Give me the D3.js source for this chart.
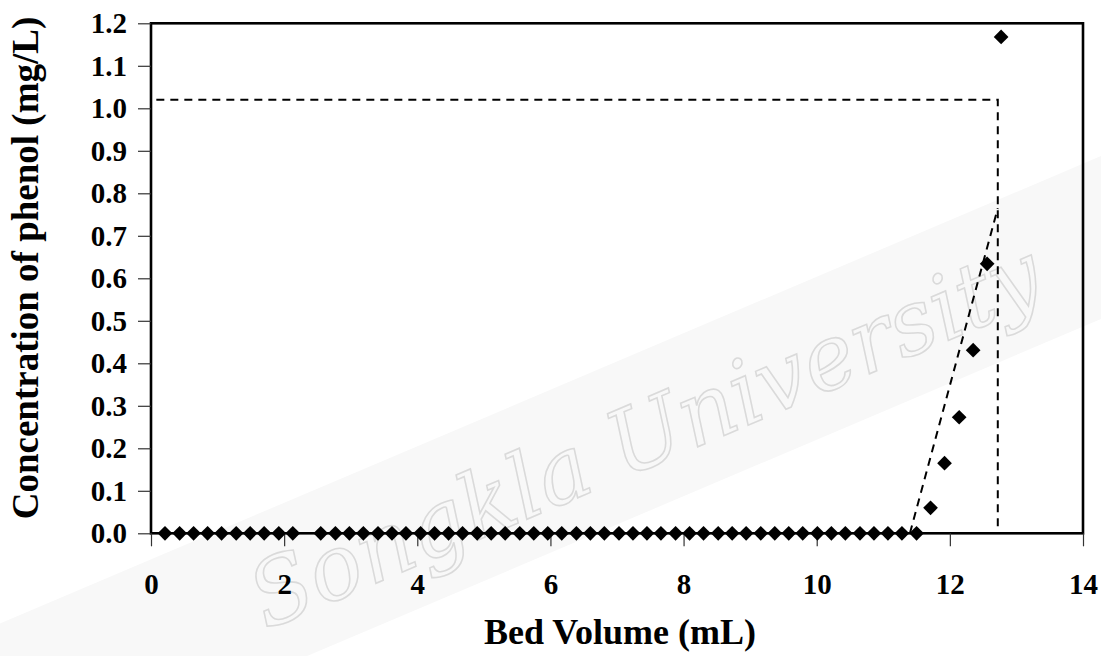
<!DOCTYPE html>
<html>
<head>
<meta charset="utf-8">
<script src="https://cdn.jsdelivr.net/npm/d3@7"></script>
<style>
  html, body { margin: 0; padding: 0; background: #fff; }
  svg { display: block; }
  text { font-family: "Liberation Serif", "Times New Roman", serif; font-weight: bold; fill: #000; }
</style>
</head>
<body>
<svg id="chart" width="1101" height="656"></svg>
<script>
// Bed volume (mL) at each sampling point
const bedVolume = [
  0.21, 0.43, 0.64, 0.85, 1.06, 1.28, 1.49, 1.70, 1.92, 2.13,
  2.55, 2.77, 2.98, 3.19, 3.41, 3.62, 3.83, 4.05, 4.26, 4.47,
  4.68, 4.90, 5.11, 5.32, 5.54, 5.75, 5.96, 6.17, 6.39, 6.60,
  6.81, 7.03, 7.24, 7.45, 7.66, 7.88, 8.09, 8.30, 8.52, 8.73,
  8.94, 9.16, 9.37, 9.58, 9.79, 10.01, 10.22, 10.43, 10.65, 10.86,
  11.07, 11.28, 11.50, 11.71, 11.92, 12.14, 12.35, 12.56, 12.77
];
// Phenol concentration in the effluent (mg/L)
const phenol = [
  0, 0, 0, 0, 0, 0, 0, 0, 0, 0,
  0, 0, 0, 0, 0, 0, 0, 0, 0, 0,
  0, 0, 0, 0, 0, 0, 0, 0, 0, 0,
  0, 0, 0, 0, 0, 0, 0, 0, 0, 0,
  0, 0, 0, 0, 0, 0, 0, 0, 0, 0,
  0, 0, 0, 0.060, 0.165, 0.273, 0.431, 0.634, 1.168
];

// Construction lines: breakthrough tangent and saturation level
const tangentLine = [[11.40, 0], [12.72, 0.765]];
const saturationLine = [[0.08, 1.02], [12.72, 1.02], [12.72, 0]];

const xTicks = [0, 2, 4, 6, 8, 10, 12, 14];
const yTicks = [0, 0.1, 0.2, 0.3, 0.4, 0.5, 0.6, 0.7, 0.8, 0.9, 1.0, 1.1, 1.2];

const xLabel = "Bed Volume (mL)";
const yLabel = "Concentration of phenol (mg/L)";
const watermark = "Songkla University";

const svg = d3.select("#chart");
const margin = { left: 151, right: 18, top: 23.3, bottom: 122.7 };
const W = 1101, H = 656;
const x = d3.scaleLinear().domain([0, 14]).range([margin.left, W - margin.right]);
const y = d3.scaleLinear().domain([0, 1.2]).range([H - margin.bottom, margin.top]);

// faint background watermark
const wm = svg.append("g").attr("transform", "translate(266,630) rotate(-23)");
wm.append("rect").attr("x", -400).attr("y", -110).attr("width", 1500).attr("height", 150)
  .attr("fill", "#f8f8f8");
wm.append("text").attr("x", 0).attr("y", 0)
  .attr("textLength", 850).attr("lengthAdjust", "spacingAndGlyphs")
  .style("font-family", "'DejaVu Serif', serif").style("font-style", "italic")
  .style("font-weight", "normal").style("font-size", "90px")
  .style("fill", "none").attr("stroke", "#dadada").attr("stroke-width", 1.6)
  .text(watermark);

// plot area frame
svg.append("rect")
  .attr("x", x(0)).attr("y", y(1.2))
  .attr("width", x(14) - x(0)).attr("height", y(0) - y(1.2))
  .attr("fill", "none").attr("stroke", "#000").attr("stroke-width", 2.6);

// axes
const tickFont = 29;
const xAxis = d3.axisBottom(x).tickValues(xTicks).tickSize(13).tickSizeOuter(0)
  .tickFormat(d3.format("d")).tickPadding(27);
const yAxis = d3.axisLeft(y).tickValues(yTicks).tickSize(13).tickSizeOuter(0)
  .tickFormat(d3.format(".1f")).tickPadding(11);

const gx = svg.append("g").attr("transform", `translate(0,${y(0)})`).call(xAxis);
const gy = svg.append("g").attr("transform", `translate(${x(0)},0)`).call(yAxis);
[gx, gy].forEach(g => {
  g.select(".domain").remove();
  g.selectAll(".tick line").attr("stroke", "#333").attr("stroke-width", 1.2);
  g.selectAll(".tick text").style("font-size", tickFont + "px")
    .style("font-family", "'Liberation Serif', serif")
    .style("font-weight", "bold").attr("fill", "#000");
});

// dashed construction lines
const line = d3.line().x(d => x(d[0])).y(d => y(d[1]));
svg.append("path").attr("d", line(saturationLine))
  .attr("fill", "none").attr("stroke", "#000").attr("stroke-width", 2)
  .attr("stroke-dasharray", "8,6");
svg.append("path").attr("d", line(tangentLine))
  .attr("fill", "none").attr("stroke", "#000").attr("stroke-width", 2)
  .attr("stroke-dasharray", "8,6");

// data markers (diamonds)
const diamond = d3.symbol().type(d3.symbolSquare).size(108);
svg.append("g").selectAll("path")
  .data(bedVolume.map((v, i) => [v, phenol[i]]))
  .join("path")
  .attr("d", diamond)
  .attr("transform", d => `translate(${x(d[0])},${y(d[1])}) rotate(45)`)
  .attr("fill", "#000");

// axis titles
svg.append("text")
  .attr("x", 620).attr("y", 644)
  .attr("text-anchor", "middle").style("font-size", "36px")
  .text(xLabel);
svg.append("text")
  .attr("transform", `translate(38,268) rotate(-90)`)
  .attr("text-anchor", "middle").style("font-size", "37px")
  .text(yLabel);
</script>
</body>
</html>
